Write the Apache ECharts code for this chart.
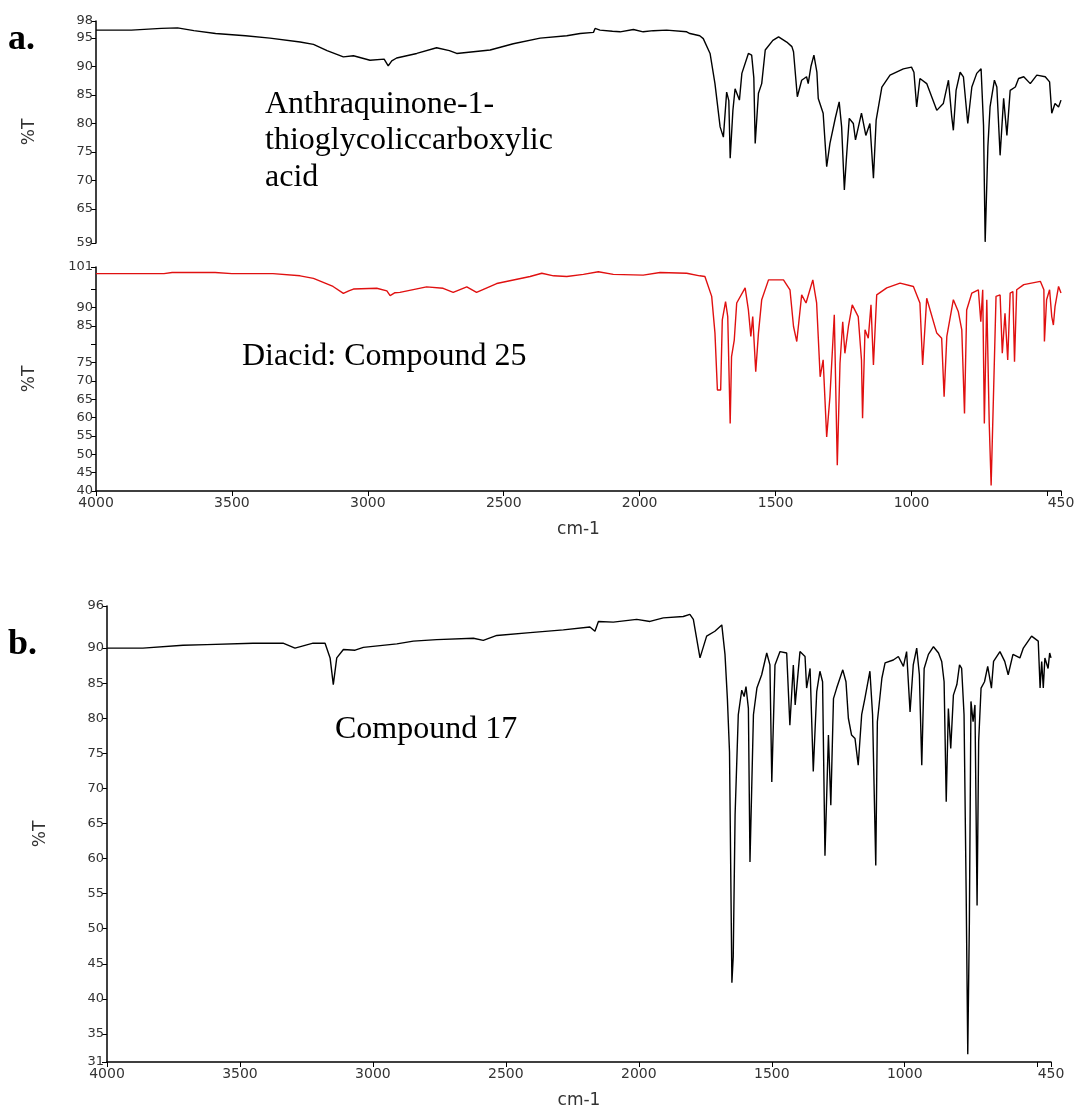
<!DOCTYPE html>
<html>
<head>
<meta charset="utf-8">
<script src="https://cdn.jsdelivr.net/npm/echarts@6/dist/echarts.min.js"></script>
<style>
  html, body { margin: 0; background: #fff; }
  #chart { width: 1078px; height: 1110px; }
</style>
</head>
<body>
<div id="chart"></div>
<script>
// IR spectra: [wavenumber cm-1, %T]
const anthraquinoneAcid = [
  [4000, 96.4], [3870, 96.4], [3760, 96.7], [3700, 96.8], [3640, 96.3], [3560, 95.8],
  [3450, 95.4], [3360, 95.0], [3249, 94.3], [3200, 93.9], [3150, 92.8], [3090, 91.7],
  [3053, 91.9], [2992, 91.1], [2940, 91.3], [2925, 90.1], [2912, 91.0], [2894, 91.5],
  [2820, 92.3], [2747, 93.3], [2700, 92.8], [2673, 92.3], [2550, 92.9], [2465, 94.0],
  [2366, 95.0], [2268, 95.4], [2219, 95.8], [2170, 96.0], [2164, 96.7], [2146, 96.4],
  [2100, 96.2], [2072, 96.1], [2023, 96.5], [1987, 96.1], [1950, 96.3], [1901, 96.4],
  [1827, 96.1], [1815, 95.8], [1779, 95.4], [1766, 94.9], [1741, 92.3], [1723, 87.0],
  [1704, 79.4], [1692, 77.6], [1680, 85.5], [1672, 84.0], [1667, 73.9], [1657, 82.3],
  [1649, 86.1], [1633, 84.1], [1624, 88.8], [1600, 92.3], [1588, 92.0], [1580, 88.0],
  [1575, 76.5], [1563, 85.3], [1551, 87.0], [1538, 92.9], [1510, 94.6], [1489, 95.2],
  [1459, 94.3], [1440, 93.5], [1434, 92.6], [1420, 84.7], [1404, 87.6], [1386, 88.2],
  [1380, 87.0], [1370, 90.0], [1359, 92.0], [1348, 89.0], [1343, 84.4], [1325, 81.8],
  [1312, 72.4], [1300, 76.5], [1280, 81.0], [1266, 83.8], [1257, 79.4], [1247, 68.3],
  [1239, 74.2], [1229, 80.9], [1214, 80.0], [1206, 77.1], [1184, 81.8], [1168, 77.9],
  [1153, 80.0], [1140, 70.4], [1130, 80.6], [1109, 86.4], [1079, 88.5], [1030, 89.6],
  [1000, 89.9], [991, 89.0], [981, 82.9], [969, 87.9], [944, 87.0], [907, 82.3],
  [883, 83.5], [864, 87.6], [852, 81.2], [846, 78.8], [836, 85.8], [821, 89.0],
  [809, 88.2], [793, 80.0], [778, 86.4], [760, 88.8], [744, 89.6], [735, 79.7],
  [729, 59.2], [719, 75.9], [711, 82.9], [695, 87.6], [686, 86.4], [674, 74.4],
  [661, 84.4], [649, 77.9], [637, 85.8], [618, 86.4], [606, 87.9], [587, 88.2],
  [563, 87.0], [539, 88.5], [508, 88.2], [492, 87.3], [484, 81.8], [472, 83.5],
  [459, 82.9], [450, 84.1]
];

const diacid25 = [
  [4000, 99.2], [3750, 99.2], [3720, 99.5], [3562, 99.5], [3500, 99.2], [3349, 99.2],
  [3249, 98.6], [3200, 97.9], [3128, 95.7], [3090, 93.8], [3070, 94.5], [3053, 95.0],
  [2967, 95.2], [2930, 94.5], [2918, 93.2], [2900, 94.0], [2882, 94.1], [2784, 95.6],
  [2723, 95.2], [2686, 94.1], [2636, 95.6], [2600, 94.1], [2526, 96.5], [2403, 98.4],
  [2360, 99.3], [2317, 98.6], [2268, 98.4], [2207, 99.0], [2152, 99.7], [2097, 99.0],
  [1987, 98.8], [1925, 99.5], [1827, 99.3], [1779, 98.6], [1760, 98.4], [1735, 93.0],
  [1723, 83.0], [1714, 67.5], [1702, 67.5], [1696, 86.6], [1684, 91.6], [1676, 87.5],
  [1667, 58.4], [1662, 76.6], [1652, 81.1], [1643, 91.2], [1612, 95.3], [1600, 89.3],
  [1591, 82.1], [1584, 87.5], [1573, 72.5], [1563, 83.0], [1551, 92.1], [1526, 97.5],
  [1471, 97.5], [1447, 94.8], [1434, 84.8], [1422, 80.7], [1404, 93.4], [1388, 91.2],
  [1363, 97.5], [1349, 91.2], [1336, 71.1], [1325, 75.7], [1312, 54.7], [1300, 65.7],
  [1284, 88.0], [1273, 47.0], [1263, 74.8], [1253, 86.1], [1245, 77.5], [1232, 84.8],
  [1218, 90.7], [1196, 87.5], [1184, 75.7], [1180, 59.8], [1171, 83.9], [1159, 81.6],
  [1149, 90.7], [1140, 74.3], [1128, 93.4], [1091, 95.3], [1042, 96.6], [993, 95.7],
  [969, 91.2], [959, 74.3], [944, 92.5], [907, 83.0], [889, 81.6], [880, 65.7],
  [870, 82.1], [846, 92.1], [828, 88.9], [815, 83.9], [805, 61.1], [797, 89.3],
  [778, 93.9], [754, 94.8], [745, 86.1], [738, 94.8], [732, 58.4], [723, 92.1],
  [714, 58.4], [707, 41.5], [699, 64.3], [689, 93.0], [674, 93.4], [666, 77.5],
  [656, 88.4], [646, 75.7], [637, 93.9], [627, 94.3], [621, 75.2], [613, 94.8],
  [587, 96.2], [526, 97.1], [513, 94.8], [511, 80.7], [503, 92.1], [492, 94.8],
  [484, 87.5], [478, 85.2], [472, 90.2], [459, 95.7], [450, 93.9]
];

const compound17 = [
  [4000, 90.0], [3865, 90.0], [3714, 90.4], [3625, 90.5], [3451, 90.7], [3338, 90.7],
  [3293, 90.0], [3225, 90.7], [3180, 90.7], [3161, 88.6], [3149, 84.8], [3136, 88.6],
  [3111, 89.8], [3067, 89.7], [3036, 90.1], [2910, 90.6], [2848, 91.0], [2760, 91.2],
  [2622, 91.4], [2585, 91.1], [2534, 91.8], [2409, 92.2], [2284, 92.6], [2184, 93.0],
  [2165, 92.4], [2152, 93.8], [2096, 93.7], [2008, 94.1], [1958, 93.8], [1908, 94.3],
  [1833, 94.5], [1808, 94.8], [1795, 94.1], [1770, 88.6], [1745, 91.7], [1714, 92.4],
  [1688, 93.3], [1676, 89.1], [1667, 82.8], [1659, 75.2], [1650, 42.3], [1645, 46.0],
  [1638, 66.2], [1626, 80.5], [1613, 84.0], [1604, 83.1], [1597, 84.5], [1588, 81.4],
  [1582, 59.5], [1569, 80.5], [1556, 84.3], [1538, 86.2], [1519, 89.3], [1507, 87.6],
  [1500, 70.9], [1488, 87.6], [1469, 89.5], [1444, 89.3], [1432, 79.0], [1419, 87.6],
  [1412, 81.9], [1394, 89.5], [1375, 88.8], [1369, 84.3], [1356, 87.1], [1344, 72.4],
  [1331, 83.8], [1319, 86.7], [1309, 85.2], [1300, 60.4], [1287, 77.6], [1278, 67.6],
  [1268, 82.8], [1256, 84.3], [1233, 86.9], [1221, 85.2], [1212, 80.0], [1200, 77.6],
  [1187, 77.1], [1175, 73.3], [1162, 80.5], [1150, 82.8], [1131, 86.7], [1121, 80.5],
  [1109, 59.0], [1103, 79.5], [1086, 85.7], [1074, 87.9], [1043, 88.3], [1024, 88.8],
  [1005, 87.4], [993, 89.5], [980, 80.9], [968, 87.6], [955, 90.0], [945, 86.2],
  [936, 73.3], [927, 87.1], [911, 89.1], [892, 90.2], [873, 89.3], [861, 88.1],
  [852, 85.2], [844, 68.1], [836, 81.4], [827, 75.7], [817, 83.3], [804, 84.8],
  [794, 87.6], [786, 87.1], [777, 80.5], [769, 55.0], [763, 32.1], [757, 50.9],
  [751, 82.4], [743, 79.5], [736, 81.9], [728, 53.3], [722, 76.7], [713, 84.3],
  [700, 85.2], [688, 87.4], [674, 84.3], [666, 88.1], [642, 89.5], [624, 88.1],
  [611, 86.2], [593, 89.1], [567, 88.6], [554, 90.0], [523, 91.7], [498, 91.0],
  [491, 84.3], [485, 88.1], [479, 84.3], [473, 88.6], [461, 87.1], [455, 89.3],
  [450, 88.6]
];

// axis ticks and labels
const xTicks = [4000, 3500, 3000, 2500, 2000, 1500, 1000, 500, 450];
const xLabels = [4000, 3500, 3000, 2500, 2000, 1500, 1000, 450];
const yTicksTop = [59, 65, 70, 75, 80, 85, 90, 95, 98];
const yTicksMid = [40, 45, 50, 55, 60, 65, 70, 75, 80, 85, 90, 95, 101];
const yLabelsMid = [40, 45, 50, 55, 60, 65, 70, 75, 85, 90, 101];
const yTicksB = [31, 35, 40, 45, 50, 55, 60, 65, 70, 75, 80, 85, 90, 96];

const labelFont = 'DejaVu Sans';
const serif = '"Liberation Serif", "Times New Roman", serif';

function xAxis(gridIndex, show) {
  return {
    type: 'value', gridIndex: gridIndex, show: show,
    min: 450, max: 4000, inverse: true,
    name: 'cm-1', nameLocation: 'middle', nameGap: 30,
    nameTextStyle: { fontFamily: labelFont, fontSize: 17, color: '#333' },
    axisLine: { lineStyle: { color: '#000', width: 1.5 } },
    axisTick: { customValues: xTicks, length: 5, lineStyle: { color: '#000' } },
    axisLabel: {
      customValues: xLabels, formatter: v => String(v),
      fontFamily: labelFont, fontSize: 14, color: '#333', margin: 5
    },
    splitLine: { show: false }
  };
}

function yAxis(gridIndex, min, max, ticks, labels) {
  return {
    type: 'value', gridIndex: gridIndex, min: min, max: max,
    name: '%T', nameLocation: 'middle', nameGap: 58,
    nameTextStyle: { fontFamily: labelFont, fontSize: 17, color: '#333' },
    axisLine: { show: true, lineStyle: { color: '#000', width: 1.5 } },
    axisTick: { show: true, customValues: ticks, length: 5, lineStyle: { color: '#000' } },
    axisLabel: {
      customValues: labels, formatter: v => String(v),
      fontFamily: labelFont, fontSize: 13, color: '#333', margin: 3
    },
    splitLine: { show: false }
  };
}

function spectrum(data, idx, color) {
  return {
    type: 'line', data: data, xAxisIndex: idx, yAxisIndex: idx,
    showSymbol: false, silent: true,
    lineStyle: { color: color, width: 1.4 }
  };
}

function note(text, x, y, size, bold) {
  return {
    type: 'text', x: x, y: y,
    style: {
      text: text, fill: '#000',
      font: (bold ? 'bold ' : '') + size + 'px ' + serif,
      verticalAlign: 'middle'
    }
  };
}

const chart = echarts.init(document.getElementById('chart'));
chart.setOption({
  animation: false,
  backgroundColor: '#fff',
  grid: [
    { left: 96, width: 965, top: 21, height: 222 },
    { left: 96, width: 965, top: 267, height: 224 },
    { left: 107, width: 944, top: 606, height: 456 }
  ],
  xAxis: [xAxis(0, false), xAxis(1, true), xAxis(2, true)],
  yAxis: [
    yAxis(0, 59, 98, yTicksTop, yTicksTop),
    yAxis(1, 40, 101, yTicksMid, yLabelsMid),
    yAxis(2, 31, 96, yTicksB, yTicksB)
  ],
  series: [
    spectrum(anthraquinoneAcid, 0, '#000'),
    spectrum(diacid25, 1, '#e01010'),
    spectrum(compound17, 2, '#000')
  ],
  graphic: [
    note('a.', 8, 40, 36, true),
    note('b.', 8, 645, 36, true),
    note('Anthraquinone-1-', 265, 105, 32, false),
    note('thioglycoliccarboxylic', 265, 141, 32, false),
    note('acid', 265, 178, 32, false),
    note('Diacid: Compound 25', 242, 357, 32, false),
    note('Compound 17', 335, 730, 32, false)
  ]
});
</script>
</body>
</html>
